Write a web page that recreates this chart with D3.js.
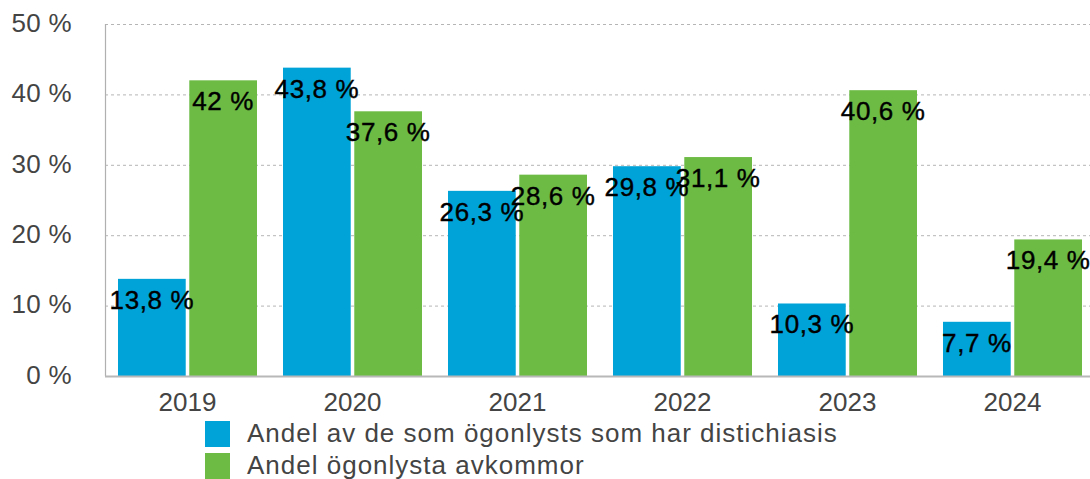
<!DOCTYPE html>
<html><head><meta charset="utf-8">
<script src="https://cdn.jsdelivr.net/npm/d3@7"></script>
<style>html,body{margin:0;padding:0;background:#fff;}svg{display:block;font-family:"Liberation Sans",Arial,Helvetica,sans-serif;}</style>
</head><body><svg id="c" width="1090" height="479"></svg>
<script>
const years = ["2019","2020","2021","2022","2023","2024"];
const seriesNames = ["Andel av de som ögonlysts som har distichiasis","Andel ögonlysta avkommor"];
const distichiasis = [13.8, 43.8, 26.3, 29.8, 10.3, 7.7];
const avkommor = [42, 37.6, 28.6, 31.1, 40.6, 19.4];
const yTicks = [0, 10, 20, 30, 40, 50];
const colors = ["#00a3d8", "#6dbb45"];

(function(){
const svg = d3.select("#c");
const pLeft = 105, pRight = 1095, pTop = 24, pBottom = 376;
const x0 = d3.scaleBand().domain(years).range([pLeft, pRight]).paddingInner(0.1576).paddingOuter(0.0788);
const y = d3.scaleLinear().domain([0, 50]).range([pBottom, pTop]);
const x1 = d3.scaleBand().domain([0,1]).range([0, x0.bandwidth()]).paddingInner(0.05);

// gridlines
svg.append("g").selectAll("line").data(yTicks.filter(d=>d>0)).join("line")
  .attr("x1", pLeft).attr("x2", 1090).attr("y1", d=>y(d)+0.5).attr("y2", d=>y(d)+0.5)
  .attr("stroke", "#b5b5b5").attr("stroke-width", 1).attr("stroke-dasharray", "3,3");

// y labels
svg.append("g").selectAll("text").data(yTicks).join("text")
  .attr("x", 72).attr("y", d=>y(d)+1).attr("text-anchor","end").attr("dominant-baseline","middle")
  .attr("font-size", 26).attr("letter-spacing", 0.3).attr("fill", "#444").text(d=>d+" %");

// bars
const data = years.map((yr,i)=>({yr, vals:[distichiasis[i], avkommor[i]]}));
const g = svg.append("g").selectAll("g").data(data).join("g").attr("transform", d=>`translate(${x0(d.yr)},0)`);
g.selectAll("rect").data(d=>d.vals.map((v,k)=>({v,k}))).join("rect")
  .attr("x", d=>x1(d.k)).attr("width", x1.bandwidth())
  .attr("y", d=>y(d.v)).attr("height", d=>y(0)-y(d.v)).attr("fill", d=>colors[d.k]);

// axis lines
svg.append("line").attr("x1", pLeft+0.5).attr("x2", pLeft+0.5).attr("y1", pTop).attr("y2", pBottom).attr("stroke","#b0b0b0").attr("stroke-width",1.2);
svg.append("line").attr("x1", pLeft).attr("x2", 1090).attr("y1", pBottom+0.5).attr("y2", pBottom+0.5).attr("stroke","#b8b8b8").attr("stroke-width",2);

// value labels
const fmt = v => String(v).replace(".", ",") + " %";
g.selectAll("text").data(d=>d.vals.map((v,k)=>({v,k}))).join("text")
  .attr("x", d=>x1(d.k)+x1.bandwidth()/2).attr("y", d=>y(d.v)+23)
  .attr("text-anchor","middle").attr("dominant-baseline","middle")
  .attr("font-size", 26).attr("letter-spacing", 0.6)
  .attr("fill","#000").attr("stroke","#000").attr("stroke-width",0.4).text(d=>fmt(d.v));

// x labels
svg.append("g").selectAll("text").data(years).join("text")
  .attr("x", d=>x0(d)+x0.bandwidth()/2).attr("y", 404).attr("text-anchor","middle").attr("dominant-baseline","middle")
  .attr("font-size", 26).attr("fill","#444").text(d=>d);

// legend
const lg = svg.append("g").selectAll("g").data(seriesNames).join("g")
  .attr("transform", (d,i)=>`translate(205,${421+i*32})`);
lg.append("rect").attr("width",25).attr("height",26).attr("fill",(d,i)=>colors[i]);
lg.append("text").attr("x",42).attr("y",14).attr("dominant-baseline","middle")
  .attr("font-size",26).attr("letter-spacing",1).attr("fill","#444").text(d=>d);
})();
</script></body></html>
